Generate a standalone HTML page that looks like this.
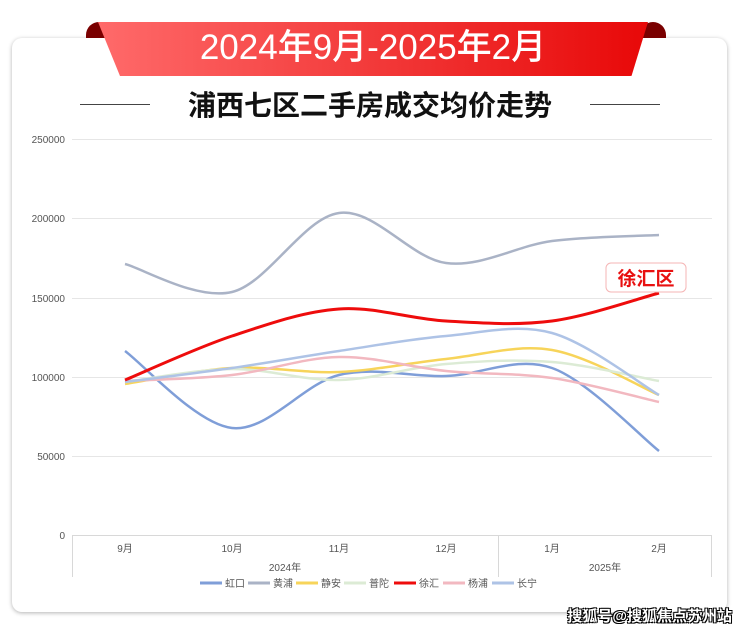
<!DOCTYPE html><html><head><meta charset="utf-8"><style>
body{margin:0;width:740px;height:633px;background:#fff;font-family:"Liberation Sans","Noto Sans CJK SC",sans-serif;overflow:hidden;position:relative}
.card{position:absolute;left:12px;top:38px;width:715px;height:574px;background:#fff;border-radius:10px;box-shadow:0 1px 4px rgba(0,0,0,.3)}
.rib{position:absolute;left:98px;top:22px;width:550px;height:54px;background:linear-gradient(90deg,#ff6a6a,#f03030 60%,#e80808);clip-path:polygon(0 0,100% 0,97% 100%,4% 100%);border-radius:0 0 18px 18px;color:#fff;font-size:35px;text-align:center;line-height:52px;font-weight:500}
.end{position:absolute;top:22px;width:26px;height:16px;background:#7a0000;border-radius:14px 14px 0 0}
.sub{position:absolute;left:0;width:740px;top:84px;text-align:center;font-size:28px;color:#111;font-weight:bold}
.ln{position:absolute;top:104px;height:1px;background:#444}
.wm{position:absolute;right:8px;top:605px;font-size:15px;font-weight:bold;color:#fff;text-shadow:-1px -1px 0 #000,1px -1px 0 #000,-1px 1px 0 #000,1px 1px 0 #000}
</style></head><body>
<div class="card"></div>
<div class="end" style="left:86px"></div><div class="end" style="left:640px"></div>
<div class="rib">2024年9月-2025年2月</div>
<div class="ln" style="left:80px;width:70px"></div><div class="ln" style="left:590px;width:70px"></div>
<div class="sub">浦西七区二手房成交均价走势</div>
<svg id="s" width="740" height="633" style="position:absolute;left:0;top:0" font-family="Liberation Sans,Noto Sans CJK SC,sans-serif">
<g stroke="#e6e6e6" stroke-width="1">
<line x1="72" y1="139.5" x2="712" y2="139.5"/><line x1="72" y1="218.5" x2="712" y2="218.5"/><line x1="72" y1="298.5" x2="712" y2="298.5"/><line x1="72" y1="377.5" x2="712" y2="377.5"/><line x1="72" y1="456.5" x2="712" y2="456.5"/>
<line x1="72" y1="535.5" x2="712" y2="535.5" stroke="#d8d8d8"/>
<line x1="72.5" y1="535" x2="72.5" y2="577" stroke="#d8d8d8"/><line x1="498.5" y1="535" x2="498.5" y2="577" stroke="#d8d8d8"/><line x1="711.5" y1="535" x2="711.5" y2="577" stroke="#d8d8d8"/>
</g>
<g font-size="10" fill="#555" text-anchor="end">
<text x="65" y="143">250000</text><text x="65" y="222">200000</text><text x="65" y="302">150000</text><text x="65" y="381">100000</text><text x="65" y="460">50000</text><text x="65" y="539">0</text></g>
<g font-size="10" fill="#555" text-anchor="middle">
<text x="125" y="552">9月</text><text x="232" y="552">10月</text><text x="339" y="552">11月</text><text x="446" y="552">12月</text><text x="552" y="552">1月</text><text x="659" y="552">2月</text>
<text x="285" y="571">2024年</text><text x="605" y="571">2025年</text></g>
<g id="lines" fill="none" stroke-width="2.5"></g>
<g font-size="10" fill="#555" id="leg"></g>
<rect x="606" y="263" width="80" height="29" rx="5" fill="#fff" stroke="#f5b5b5"/>
<text x="646" y="285" font-size="19" fill="#e81010" text-anchor="middle" font-weight="bold">徐汇区</text>
</svg>
<div class="wm">搜狐号@搜狐焦点苏州站</div>
<script>
var xs=[125,232,339,446,552,659];
var S=[["虹口","#7f9ed8",[351,428,375,376,368,451]],["黄浦","#aab3c6",[264,292,213,263,241,235]],["静安","#f7d45a",[384,368,372,359,350,395]],["普陀","#dcebd5",[382,369,380,364,362,381]],["杨浦","#f2b8c0",[381,375,357,371,378,402]],["长宁","#aec3e6",[382,368,351,336,333,395]],["徐汇","#ee0c0c",[380,336,309,321,321,293]]];
function p(y){var d="M"+xs[0]+","+y[0];for(var i=0;i<5;i++){var a=Math.max(i-1,0),b=Math.min(i+2,5);var c1x=xs[i]+(xs[i+1]-xs[a])/6,c1y=y[i]+(y[i+1]-y[a])/6,c2x=xs[i+1]-(xs[b]-xs[i])/6,c2y=y[i+1]-(y[b]-y[i])/6;d+="C"+c1x+","+c1y+" "+c2x+","+c2y+" "+xs[i+1]+","+y[i+1];}return d;}
var g=document.getElementById("lines"),h="";S.forEach(function(s){h+='<path d="'+p(s[2])+'" stroke="'+s[1]+'" stroke-width="'+(s[0]=="徐汇"?3:2.5)+'"/>';});g.innerHTML=h;
var order=["虹口","黄浦","静安","普陀","徐汇","杨浦","长宁"],lx=[200,248,296,344,394,443,492],L="";
order.forEach(function(n,i){var c=S.filter(function(s){return s[0]==n})[0][1];L+='<line x1="'+lx[i]+'" y1="583" x2="'+(lx[i]+22)+'" y2="583" stroke="'+c+'" stroke-width="3"/><text x="'+(lx[i]+25)+'" y="587">'+n+'</text>';});
document.getElementById("leg").innerHTML=L;
</script>
</body></html>
